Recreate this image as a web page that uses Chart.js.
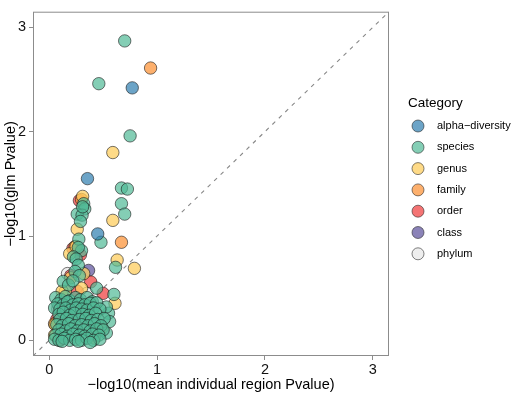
<!DOCTYPE html>
<html>
<head>
<meta charset="utf-8">
<script src="https://cdn.jsdelivr.net/npm/chart.js@4"></script>
<style>body{margin:0;background:#fff}</style>
</head>
<body>
<canvas id="chart" width="512" height="396"></canvas>
<script>
// category names in legend order
const categories = ['alpha−diversity', 'species', 'genus', 'family', 'order', 'class', 'phylum'];
const fills = ['rgba(45,125,175,0.7)', 'rgba(80,185,150,0.7)', 'rgba(254,205,95,0.75)', 'rgba(252,150,60,0.75)',
    'rgba(240,70,70,0.75)', 'rgba(100,90,160,0.75)', 'rgba(232,232,232,0.75)'];

// [x, y] = [-log10(mean individual region P), -log10(glm P)]
const alphaPts = [[0.77, 2.42], [0.355, 1.55], [0.45, 1.02]];
const speciesPts = [
    [0.70, 2.87], [0.46, 2.46], [0.75, 1.96], [0.67, 1.46], [0.725, 1.45], [0.32, 1.31], [0.67, 1.31],
    [0.33, 1.26], [0.70, 1.21], [0.26, 1.21], [0.305, 1.20], [0.29, 1.14], [0.31, 1.28], [0.48, 0.94],
    [0.275, 0.97], [0.30, 0.86], [0.27, 0.89], [0.225, 0.80], [0.25, 0.78], [0.615, 0.70], [0.27, 0.72],
    [0.24, 0.66], [0.28, 0.62], [0.13, 0.565], [0.18, 0.53], [0.22, 0.57], [0.44, 0.50], [0.60, 0.44],
    [0.55, 0.26], [0.53, 0.32], [0.56, 0.18], [0.53, 0.07],
    [0.06, 0.41], [0.11, 0.39], [0.15, 0.42], [0.19, 0.38], [0.245, 0.41], [0.29, 0.39], [0.35, 0.41], [0.40, 0.37],
    [0.08, 0.35], [0.13, 0.34], [0.17, 0.37], [0.22, 0.34], [0.27, 0.35], [0.33, 0.34], [0.38, 0.355], [0.44, 0.36],
    [0.05, 0.31], [0.10, 0.30], [0.155, 0.31], [0.20, 0.29], [0.25, 0.31], [0.30, 0.30], [0.35, 0.29], [0.41, 0.31], [0.47, 0.30],
    [0.09, 0.25], [0.13, 0.27], [0.19, 0.24], [0.235, 0.26], [0.31, 0.25], [0.37, 0.24], [0.43, 0.26],
    [0.10, 0.20], [0.16, 0.21], [0.21, 0.19], [0.28, 0.20], [0.34, 0.21], [0.39, 0.19], [0.45, 0.20], [0.51, 0.21],
    [0.07, 0.15], [0.12, 0.14], [0.18, 0.16], [0.24, 0.14], [0.30, 0.15], [0.36, 0.14], [0.42, 0.16], [0.48, 0.14],
    [0.09, 0.10], [0.15, 0.09], [0.20, 0.11], [0.26, 0.09], [0.32, 0.10], [0.38, 0.09], [0.44, 0.11], [0.50, 0.10],
    [0.06, 0.05], [0.11, 0.06], [0.17, 0.04], [0.22, 0.06], [0.28, 0.05], [0.33, 0.04], [0.40, 0.06], [0.46, 0.05],
    [0.05, 0.01], [0.09, 0.00], [0.14, 0.02], [0.19, 0.00], [0.245, 0.01], [0.30, 0.00], [0.35, 0.02], [0.41, 0.00], [0.47, 0.01],
    [0.12, -0.01], [0.27, -0.01], [0.38, -0.02]
];
const genusPts = [
    [0.59, 1.80], [0.31, 1.38], [0.59, 1.15], [0.26, 1.065], [0.19, 0.83], [0.63, 0.77], [0.79, 0.69],
    [0.32, 0.64], [0.61, 0.355], [0.15, 0.47], [0.055, 0.15], [0.20, 0.60], [0.12, 0.47], [0.30, 0.50],
    [0.45, 0.10], [0.05, 0.05], [0.25, 0.90]
];
const familyPts = [[0.94, 2.61], [0.67, 0.94], [0.24, 0.90], [0.49, 0.12], [0.05, 0.16], [0.30, 1.35], [0.42, 0.02]];
const orderPts = [[0.28, 1.34], [0.29, 0.82], [0.385, 0.56], [0.50, 0.45], [0.10, 0.00], [0.07, 0.20], [0.26, 0.47], [0.22, 0.88], [0.20, 0.62]];
const classPts = [[0.365, 0.67], [0.30, 0.25]];
const phylumPts = [[0.17, 0.64], [0.35, 0.45], [0.08, 0.30], [0.45, 0.15], [0.20, 0.05]];
const seriesPts = [alphaPts, speciesPts, genusPts, familyPts, orderPts, classPts, phylumPts];
// drawing order (lower is drawn on top)
const drawOrder = [0, 1, 2, 3, 4, 5, 6];

const axisMin = -0.15, axisMax = 3.15;
const tickValues = [0, 1, 2, 3];

const fontFamily = '"Liberation Sans", Arial, sans-serif';
const frameColor = '#8c8c8c';

const framePlugin = {
    id: 'frame',
    afterDraw(chart) {
        const { ctx, chartArea: a } = chart;
        ctx.save();
        ctx.strokeStyle = frameColor;
        ctx.lineWidth = 1;
        ctx.strokeRect(a.left + 0.5, a.top + 0.5, a.right - a.left - 1, a.bottom - a.top - 1);

        // legend
        ctx.fillStyle = '#000';
        ctx.textBaseline = 'middle';
        ctx.font = '13.5px ' + fontFamily;
        ctx.fillText('Category', 408, 103);
        ctx.font = '11px ' + fontFamily;
        categories.forEach((c, i) => {
            const y = 126 + i * 21.3;
            ctx.beginPath();
            ctx.arc(418, y, 6, 0, Math.PI * 2);
            ctx.fillStyle = fills[i];
            ctx.fill();
            ctx.strokeStyle = 'rgba(30,30,30,0.7)';
            ctx.lineWidth = 0.8;
            ctx.stroke();
            ctx.fillStyle = '#000';
            ctx.fillText(c, 437, y);
        });
        ctx.restore();
    }
};

const datasets = categories.map((c, i) => ({
    label: c,
    data: seriesPts[i].map(p => ({ x: p[0], y: p[1] })),
    backgroundColor: fills[i],
    borderColor: 'rgba(25,25,25,0.75)',
    borderWidth: 0.8,
    pointRadius: 6.2,
    order: drawOrder[i]
}));

datasets.push({
    type: 'line',
    label: 'identity',
    data: [{ x: axisMin, y: axisMin }, { x: axisMax, y: axisMax }],
    borderColor: '#888',
    borderWidth: 1.1,
    borderDash: [4, 5],
    pointRadius: 0,
    order: 20
});

function axis(pos) {
    return {
        type: 'linear',
        position: pos,
        min: axisMin,
        max: axisMax,
        afterBuildTicks: s => { s.ticks = tickValues.map(v => ({ value: v })); },
        afterFit: s => {
            if (pos === 'left') s.width = 33;
            else s.height = 40;
        },
        border: { display: false },
        grid: { drawOnChartArea: false, drawTicks: true, tickLength: 4, color: frameColor },
        ticks: {
            color: '#111',
            font: { family: fontFamily, size: 14.5 },
            padding: pos === 'left' ? 3 : 1
        },
        title: {
            display: true,
            text: pos === 'left' ? '−log10(glm Pvalue)' : '−log10(mean individual region Pvalue)',
            color: '#000',
            font: { family: fontFamily, size: 14.5 },
            padding: { top: 2, bottom: 2 }
        }
    };
}

document.addEventListener('DOMContentLoaded', () => {
    new Chart(document.getElementById('chart'), {
        type: 'scatter',
        data: { datasets: datasets },
        options: {
            responsive: false,
            animation: false,
            devicePixelRatio: 1,
            layout: { padding: { top: 2, right: 123, left: 0, bottom: 0 } },
            plugins: { legend: { display: false }, tooltip: { enabled: false } },
            scales: { x: axis('bottom'), y: axis('left') }
        },
        plugins: [framePlugin]
    });
});
</script>
</body>
</html>
